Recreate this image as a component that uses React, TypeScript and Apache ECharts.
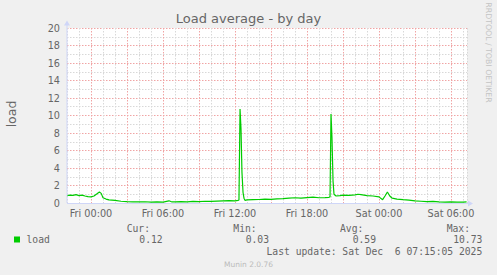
import React, { useEffect, useRef } from "react";
import * as echarts from "echarts";

// hours relative to Fri 00:00
const hours = [
  -2.0, -1.75, -1.5, -1.25, -1.0, -0.75, -0.5, -0.25, 0.0, 0.25, 0.5, 0.7, 0.85, 1.0, 1.25, 1.5, 1.75, 2.0,
  2.5, 3.0, 3.5, 4.0, 4.5, 5.0, 5.5, 6.0, 6.5, 6.75, 7.0, 7.5, 8.0, 8.5, 9.0, 9.5, 10.0, 10.5, 11.0, 11.5,
  12.0, 12.25, 12.33, 12.42, 12.5, 12.58, 12.67, 12.75, 12.83, 13.0, 13.5, 14.0, 14.5, 15.0, 15.5, 16.0,
  16.5, 17.0, 17.5, 18.0, 18.5, 19.0, 19.5, 19.83, 19.92, 20.0, 20.08, 20.17, 20.25, 20.42, 20.75, 21.0,
  21.5, 22.0, 22.25, 22.5, 23.0, 23.5, 24.0, 24.3, 24.5, 24.7, 24.9, 25.1, 25.5, 26.0, 26.5, 27.0, 27.5,
  28.0, 28.5, 29.0, 29.5, 30.0, 30.5, 31.0, 31.3,
];
const loads = [
  0.85, 0.9, 0.88, 0.95, 0.85, 0.9, 0.8, 0.72, 0.7, 0.8, 1.05, 1.26, 1.1, 0.6, 0.45, 0.35, 0.33, 0.3,
  0.2, 0.15, 0.13, 0.12, 0.14, 0.1, 0.12, 0.1, 0.25, 0.12, 0.12, 0.15, 0.12, 0.18, 0.15, 0.2, 0.18, 0.22, 0.25, 0.28,
  0.25, 0.3, 0.35, 10.73, 8.5, 3.5, 1.2, 0.55, 0.3, 0.35, 0.38, 0.4, 0.45, 0.42, 0.48, 0.5,
  0.55, 0.6, 0.55, 0.62, 0.68, 0.6, 0.62, 0.65, 0.7, 10.17, 7.5, 2.5, 1.0, 0.8, 0.85, 0.9,
  0.88, 0.92, 1.0, 0.95, 0.85, 0.8, 0.7, 0.38, 0.8, 1.25, 0.8, 0.55, 0.45, 0.38, 0.33, 0.25, 0.2,
  0.15, 0.18, 0.12, 0.1, 0.12, 0.1, 0.1, 0.12,
];

const statLabels = ["Cur:", "Min:", "Avg:", "Max:"];
const statValues = ["0.12", "0.03", "0.59", "10.73"];
const seriesName = "load";
const titleText = "Load average - by day";
const lastUpdate = "Last update: Sat Dec  6 07:15:05 2025";
const watermark = "Munin 2.0.76";
const sideText = "RRDTOOL / TOBI OETIKER";

const SANS = "DejaVu Sans";
const MONO = "DejaVu Sans Mono";
const FONT = "#666666";
const GRID = "#d8d8d8";
const MGRID = "#f0a4a4";
const AXIS = "#CFD6F8";
const LINE = "#00CC00";

export default function App() {
  const ref = useRef<HTMLDivElement>(null);
  useEffect(() => {
    if (!ref.current) return;
    const chart = echarts.init(ref.current, undefined, { renderer: "svg" });
    const data = hours.map((h, i) => [h, loads[i]]);
    const labelLeft = [126.7, 233.3, 340, 446.7];
    const valueRight = [162.7, 269, 376, 482.3];
    const graphics: any[] = [
      // axis extensions & arrows
      { type: "line", shape: { x1: 67, y1: 203, x2: 67, y2: 25 }, style: { stroke: AXIS, lineWidth: 1 }, z: 10 },
      { type: "polygon", shape: { points: [[64, 25.5], [70, 25.5], [67, 20.5]] }, style: { fill: AXIS }, z: 10 },
      { type: "line", shape: { x1: 67, y1: 203.5, x2: 469, y2: 203.5 }, style: { stroke: AXIS, lineWidth: 1 }, z: 10 },
      { type: "polygon", shape: { points: [[468, 200.5], [468, 206.5], [473, 203.5]] }, style: { fill: AXIS }, z: 10 },
      {
        type: "text", x: 11, y: 114, rotation: Math.PI / 2,
        style: { text: seriesName, font: `12.5px '${SANS}'`, fill: FONT, align: "center", verticalAlign: "middle" },
      },
      {
        type: "text", x: 488.5, y: 52.5, rotation: -Math.PI / 2,
        style: { text: sideText, font: `7.8px '${SANS}'`, fill: "#c4c4c4", align: "center", verticalAlign: "middle" },
      },
      { type: "rect", shape: { x: 14, y: 236.5, width: 6, height: 6 }, style: { fill: LINE } },
      {
        type: "text", x: 26.5, y: 239.8,
        style: { text: seriesName, font: `9.7px '${MONO}'`, fill: FONT, align: "left", verticalAlign: "middle" },
      },
      {
        type: "text", x: 482.3, y: 251.5,
        style: { text: lastUpdate, font: `9.7px '${MONO}'`, fill: FONT, align: "right", verticalAlign: "middle" },
      },
      {
        type: "text", x: 248.5, y: 264.2,
        style: { text: watermark, font: `7.5px '${SANS}'`, fill: "#bbbbbb", align: "center", verticalAlign: "middle" },
      },
    ];
    statLabels.forEach((t, i) => {
      graphics.push({
        type: "text", x: labelLeft[i], y: 228.3,
        style: { text: t, font: `9.7px '${MONO}'`, fill: FONT, align: "left", verticalAlign: "middle" },
      });
      graphics.push({
        type: "text", x: valueRight[i], y: 239.8,
        style: { text: statValues[i], font: `9.7px '${MONO}'`, fill: FONT, align: "right", verticalAlign: "middle" },
      });
    });

    const fmtX = (v: number) => {
      const r = Math.round(v);
      if (Math.abs(v - r) > 1e-6 || r % 6 !== 0) return "";
      const day = r < 24 ? "Fri" : "Sat";
      const hh = ((r % 24) + 24) % 24;
      return `${day} ${String(hh).padStart(2, "0")}:00`;
    };

    chart.setOption({
      animation: false,
      backgroundColor: "#F0F0F0",
      title: {
        text: titleText,
        left: "center",
        top: 7,
        padding: 5,
        textStyle: { fontFamily: SANS, fontSize: 13, fontWeight: "normal", color: FONT },
      },
      grid: {
        left: 67, top: 28, width: 400, height: 175,
        show: true, backgroundColor: "#ffffff", borderWidth: 0,
      },
      xAxis: {
        type: "value",
        min: -2,
        max: 31.3333,
        interval: 1,
        axisLine: { show: false },
        axisTick: { show: false },
        axisLabel: {
          formatter: fmtX, margin: 5, color: FONT, fontFamily: SANS, fontSize: 9.7,
          showMinLabel: true, showMaxLabel: false,
        },
        splitLine: {
          show: true,
          lineStyle: { color: [GRID, GRID, MGRID], type: [1.5, 1.5], width: 1 },
        },
      },
      yAxis: {
        type: "value",
        min: 0,
        max: 20,
        interval: 2,
        axisLine: { show: false },
        axisTick: { show: false },
        axisLabel: { margin: 7, color: FONT, fontFamily: SANS, fontSize: 9.7 },
        splitLine: { show: true, lineStyle: { color: MGRID, type: [1.5, 1.5], width: 1 } },
        minorTick: { show: false, splitNumber: 2 },
        minorSplitLine: { show: true, lineStyle: { color: GRID, type: [1.5, 1.5], width: 1 } },
      },
      series: [
        {
          name: seriesName,
          type: "line",
          data,
          showSymbol: false,
          symbol: "none",
          lineStyle: { color: LINE, width: 1.2 },
          z: 5,
        },
      ],
      graphic: graphics,
    });
    return () => chart.dispose();
  }, []);
  return (
    <div
      ref={ref}
      style={{ position: "fixed", left: 0, top: 0, width: 497, height: 275 }}
    />
  );
}
